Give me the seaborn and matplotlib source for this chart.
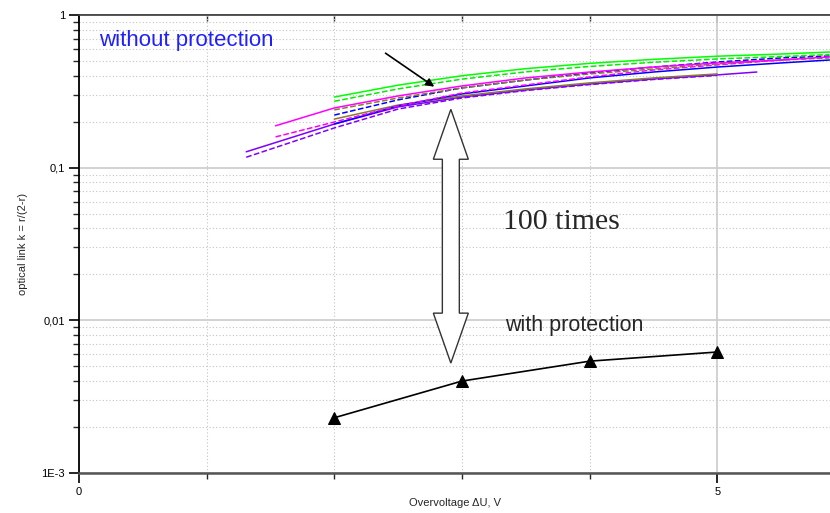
import numpy as np
import pandas as pd
import matplotlib
matplotlib.use("Agg")
import matplotlib.pyplot as plt
import matplotlib.ticker as mticker
from matplotlib.patches import Polygon
import seaborn as sns

# ---- data ----
green_x = [2.0, 2.5, 3.0, 3.5, 4.0, 4.5, 5.0, 5.5, 5.88]
green_y = [0.290, 0.347, 0.400, 0.445, 0.482, 0.512, 0.537, 0.555, 0.572]
green_d_x = [2.0, 2.5, 3.0, 3.5, 4.0, 4.5, 5.0, 5.5, 5.88]
green_d_y = [0.272, 0.328, 0.380, 0.424, 0.460, 0.490, 0.515, 0.534, 0.550]
magenta_x = [1.54, 2.0, 2.5, 3.0, 3.5, 4.0, 4.5, 5.0, 5.5, 5.88]
magenta_y = [0.188, 0.246, 0.295, 0.343, 0.387, 0.423, 0.456, 0.485, 0.507, 0.531]
magenta_d_x = [1.54, 2.0, 2.5, 3.0, 3.5, 4.0, 4.5, 5.0, 5.6]
magenta_d_y = [0.159, 0.199, 0.254, 0.308, 0.348, 0.393, 0.436, 0.471, 0.515]
olive_x = [2.0, 2.5, 3.0, 3.5, 4.0, 4.5, 5.0]
olive_y = [0.208, 0.257, 0.295, 0.328, 0.359, 0.387, 0.411]
olive_d_x = [2.0, 2.5, 3.0, 3.5, 4.0, 4.5, 5.0, 5.5, 5.88]
olive_d_y = [0.239, 0.286, 0.333, 0.375, 0.411, 0.443, 0.478, 0.507, 0.523]
purple_x = [1.31, 2.0, 2.5, 3.0, 3.5, 4.0, 4.5, 5.0, 5.31]
purple_y = [0.127, 0.193, 0.250, 0.290, 0.323, 0.353, 0.381, 0.405, 0.423]
purple_d_x = [1.31, 2.0, 2.5, 3.0, 3.5, 4.0, 4.5, 5.0]
purple_d_y = [0.117, 0.182, 0.242, 0.286, 0.320, 0.350, 0.378, 0.402]
blue_x = [2.0, 2.5, 3.0, 3.5, 4.0, 4.5, 5.0, 5.5, 5.88]
blue_y = [0.193, 0.254, 0.304, 0.343, 0.387, 0.423, 0.456, 0.485, 0.507]
blue_d_x = [2.0, 2.5, 3.0, 3.5, 4.0, 4.5, 5.0, 5.5, 5.88]
blue_d_y = [0.221, 0.278, 0.333, 0.375, 0.417, 0.456, 0.492, 0.523, 0.539]

prot_x = [2.0, 3.0, 4.0, 5.0]
prot_y = [0.0023, 0.0040, 0.0054, 0.0062]

series = [
    (purple_x, purple_y, "#8000ff", "-"),
    (purple_d_x, purple_d_y, "#8000ff", "--"),
    (olive_x, olive_y, "#8a7a30", "-"),
    (blue_x, blue_y, "#0000ff", "-"),
    (blue_d_x, blue_d_y, "#0000ff", "--"),
    (magenta_d_x, magenta_d_y, "#ff00ff", "--"),
    (olive_d_x, olive_d_y, "#8a7a30", "--"),
    (magenta_x, magenta_y, "#ff00ff", "-"),
    (green_d_x, green_d_y, "#00ee00", "--"),
    (green_x, green_y, "#00ff00", "-"),
]

sns.set_theme(style="white")
plt.rcParams["font.family"] = ["Liberation Sans", "DejaVu Sans"]

fig = plt.figure(figsize=(8.3, 5.13), dpi=100)
ax = fig.add_axes([0.0952, 0.078, 0.905, 0.8928])

for xs, ys, col, ls in series:
    df = pd.DataFrame({"x": xs, "y": ys})
    sns.lineplot(data=df, x="x", y="y", ax=ax, color=col, linestyle=ls,
                 linewidth=1.1, estimator=None, sort=False)

dfp = pd.DataFrame({"x": prot_x, "y": prot_y})
sns.lineplot(data=dfp, x="x", y="y", ax=ax, color="black", linewidth=1.2,
             marker="^", markersize=8, markeredgecolor="black", estimator=None)

ax.set_yscale("log")
ax.set_xlim(0, 5.885)
ax.set_ylim(1e-3, 1)

# ticks
ax.xaxis.set_major_locator(mticker.FixedLocator([0, 5]))
ax.xaxis.set_minor_locator(mticker.FixedLocator([1, 2, 3, 4]))
ax.xaxis.set_major_formatter(mticker.FixedFormatter(["0", "5"]))
ax.yaxis.set_major_locator(mticker.FixedLocator([1e-3, 1e-2, 1e-1, 1]))
ax.yaxis.set_major_formatter(mticker.FixedFormatter(["1E-3", "0,01", "0,1", "1"]))
ax.yaxis.set_minor_locator(mticker.LogLocator(base=10, subs=np.arange(2, 10)))
ax.yaxis.set_minor_formatter(mticker.NullFormatter())

ax.tick_params(axis="both", which="major", direction="out", length=7, width=1.2,
               labelsize=8, colors="black", pad=3)
ax.tick_params(axis="both", which="minor", direction="out", length=4, width=1.0)
ax.tick_params(axis="x", which="both", top=False, bottom=True)
ax.tick_params(axis="y", which="both", left=True)

# top axis ticks pointing inward
top_ax = ax.secondary_xaxis("top")
top_ax.xaxis.set_major_locator(mticker.FixedLocator([0, 5]))
top_ax.xaxis.set_minor_locator(mticker.FixedLocator([1, 2, 3, 4]))
top_ax.tick_params(axis="x", which="major", direction="in", length=6, width=1.2,
                   labeltop=False)
top_ax.tick_params(axis="x", which="minor", direction="in", length=4, width=1.0)
top_ax.spines["top"].set_color("#444444")
top_ax.spines["top"].set_linewidth(1.2)

ax.grid(True, which="major", color="#cfcfcf", linewidth=1.3, linestyle="-")
ax.grid(True, which="minor", color="#c4c4c4", linewidth=0.8, linestyle=(0, (1, 2)))
ax.set_axisbelow(True)

ax.spines["left"].set_color("black")
ax.spines["left"].set_linewidth(1.3)
ax.spines["bottom"].set_color("#555555")
ax.spines["bottom"].set_linewidth(1.8)
ax.spines["top"].set_color("#444444")
ax.spines["top"].set_linewidth(1.2)
ax.spines["right"].set_visible(False)

ax.set_xlabel("Overvoltage \u0394U, V", fontsize=8, labelpad=1)
ax.set_ylabel("optical link k = r/(2-r)", fontsize=8, labelpad=10)

# annotations
ax.text(0.027, 0.945, "without protection", transform=ax.transAxes,
        color="#2020ff", fontsize=16, va="center", ha="left")
ax.text(0.565, 0.548, "100 times", transform=ax.transAxes,
        fontsize=21.5, family=["Liberation Serif", "DejaVu Serif"],
        va="center", ha="left")
ax.text(0.567, 0.322, "with protection", transform=ax.transAxes,
        fontsize=15.5, va="center", ha="left")

ax.annotate("", xy=(0.476, 0.84), xycoords="axes fraction",
            xytext=(0.405, 0.92), textcoords="axes fraction",
            arrowprops=dict(arrowstyle="-|>", color="black", lw=1.2,
                            mutation_scale=12))

# hollow double arrow (axes fraction)
cx = 0.495
top, bot = 0.794, 0.240
hl = 0.109
hw = 0.0233
sw = 0.0113
verts = [
    (cx, top), (cx + hw, top - hl), (cx + sw, top - hl), (cx + sw, bot + hl),
    (cx + hw, bot + hl), (cx, bot), (cx - hw, bot + hl), (cx - sw, bot + hl),
    (cx - sw, top - hl), (cx - hw, top - hl),
]
ax.add_patch(Polygon(verts, closed=True, transform=ax.transAxes,
                     facecolor="white", edgecolor="#333333", linewidth=1.0,
                     zorder=5))

fig.savefig("out.png", dpi=100)
